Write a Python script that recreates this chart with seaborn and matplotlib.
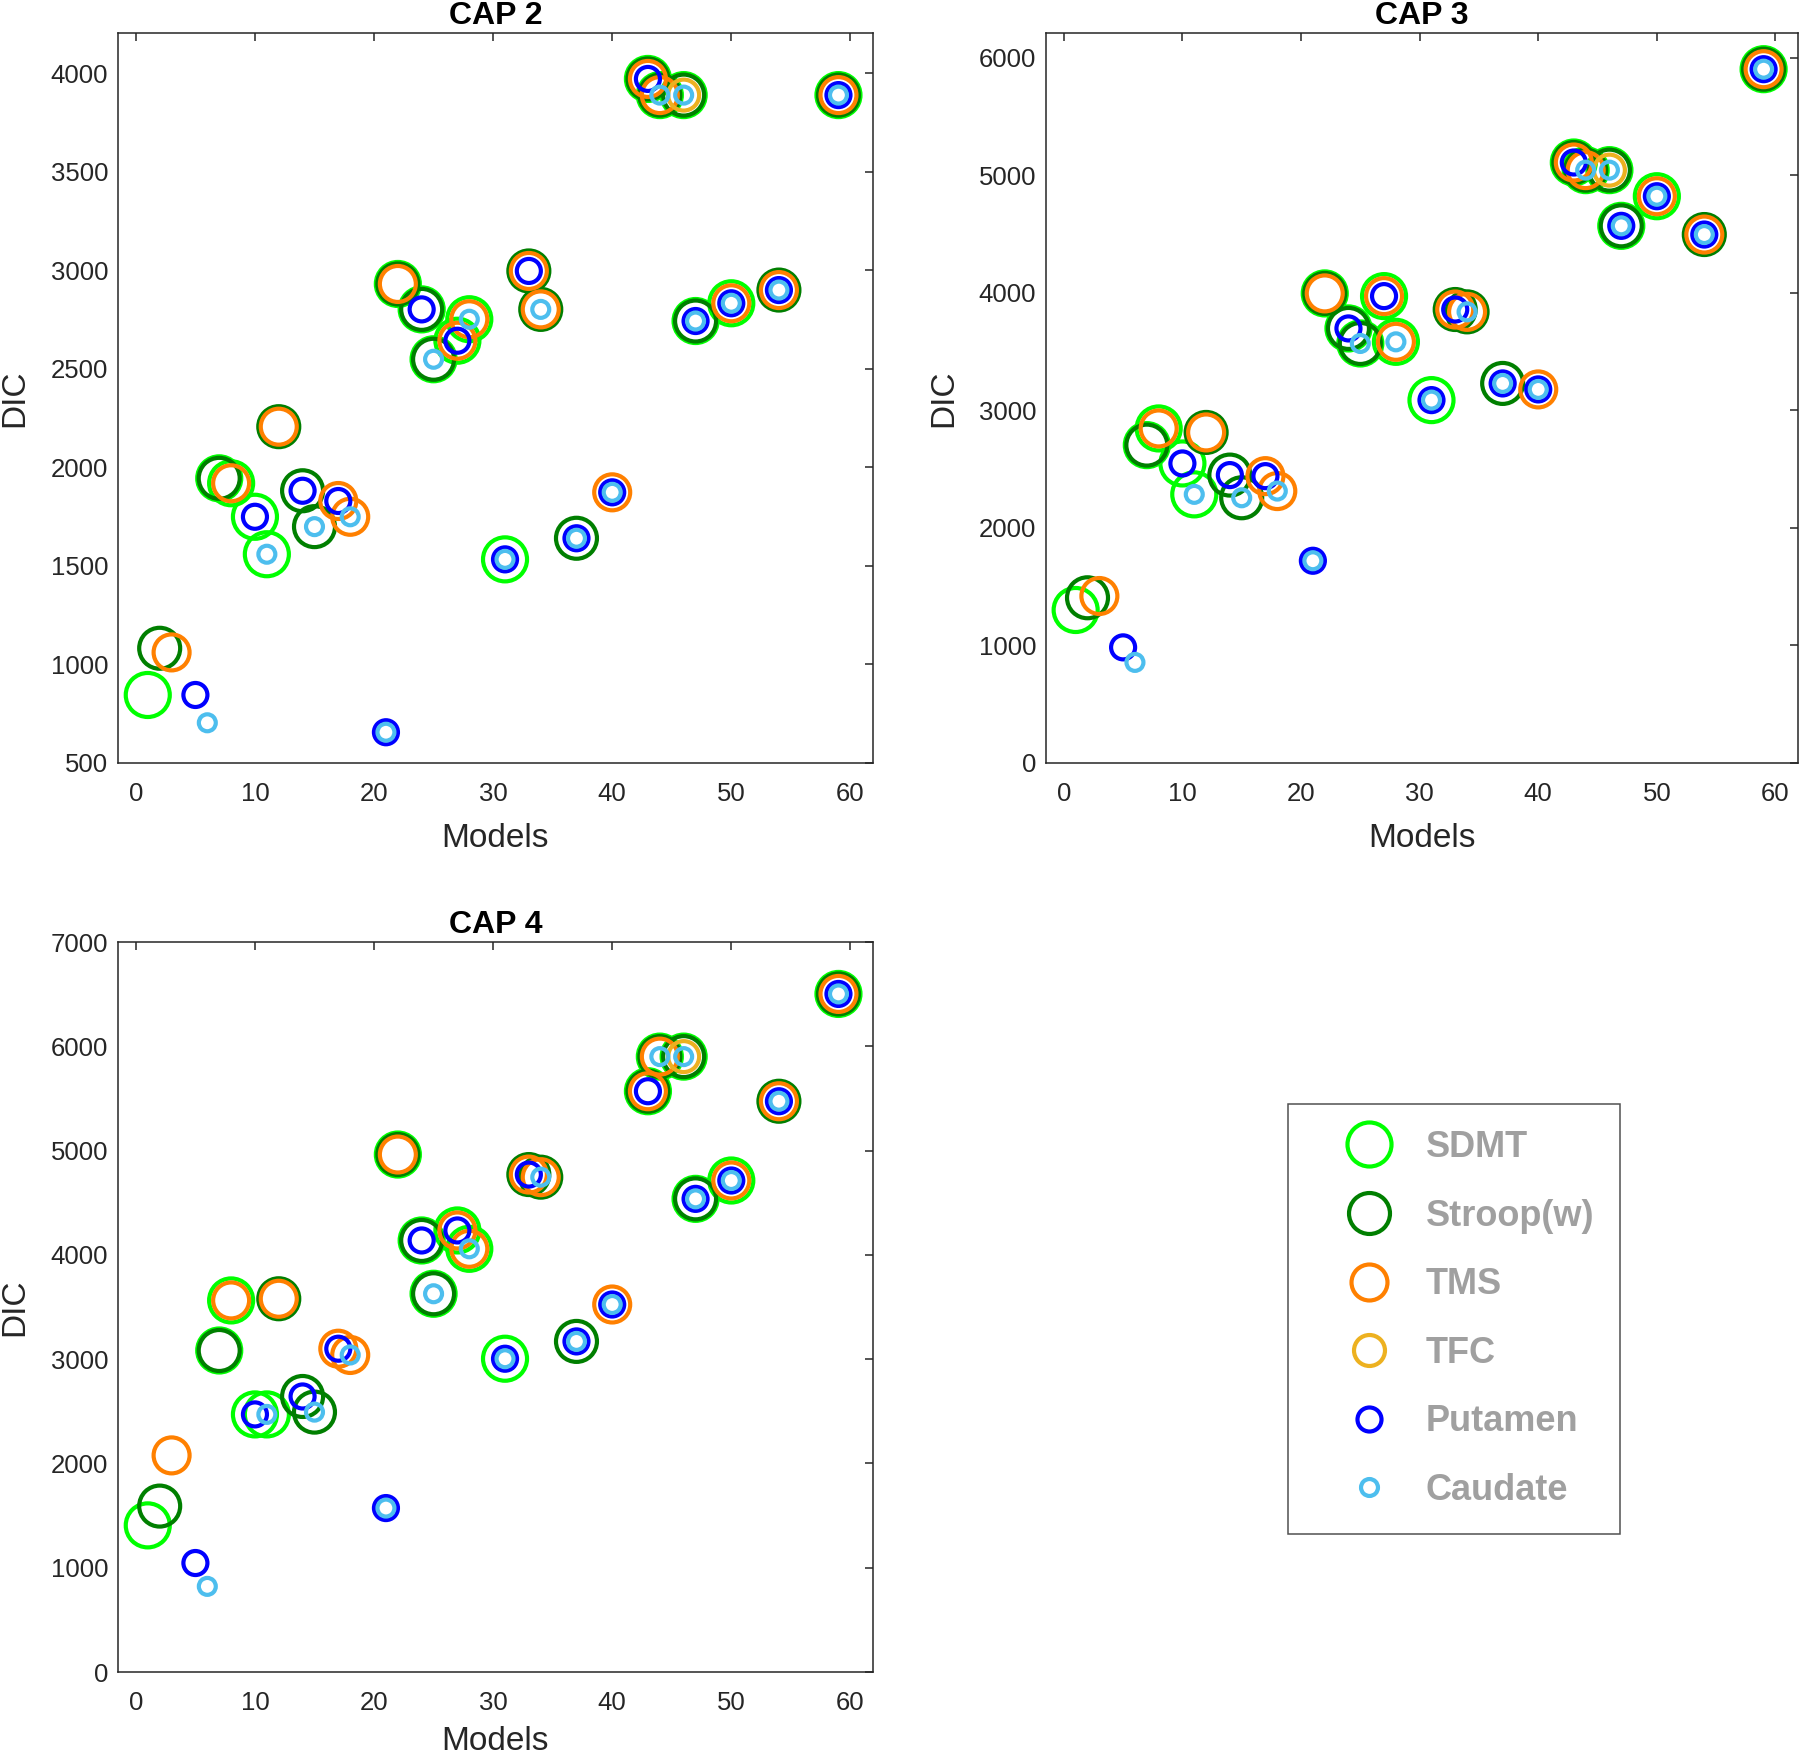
import numpy as np
import pandas as pd
import seaborn as sns
import matplotlib.pyplot as plt
from matplotlib.lines import Line2D

# Model numbers shown in the figure and the predictors each model contains
# S = SDMT, W = Stroop(w), M = TMS, F = TFC, P = Putamen, C = Caudate
models = [1, 2, 3, 5, 6, 7, 8, 10, 11, 12, 14, 15, 17, 18, 21, 22, 24, 25, 27, 28,
          31, 33, 34, 37, 40, 43, 44, 46, 47, 50, 54, 59]
terms = ['S', 'W', 'M', 'P', 'C', 'SW', 'SM', 'SP', 'SC', 'WM', 'WP', 'WC', 'MP', 'MC', 'PC',
         'SWM', 'SWP', 'SWC', 'SMP', 'SMC', 'SPC', 'WMP', 'WMC', 'WPC', 'MPC',
         'SWMP', 'SWMC', 'SWFC', 'SWPC', 'SMPC', 'WMPC', 'SWMPC']

# DIC per model
dic_cap2 = [845, 1082, 1061, 845, 704, 1944, 1919, 1749, 1559, 2206, 1881, 1699, 1829, 1749,
            656, 2930, 2801, 2548, 2642, 2751, 1533, 2996, 2801, 1640, 1873, 3970, 3888, 3888,
            2742, 2832, 2899, 3888]
dic_cap3 = [1302, 1406, 1421, 984, 856, 2705, 2847, 2549, 2286, 2813, 2450, 2257, 2441, 2314,
            1721, 3996, 3698, 3570, 3973, 3584, 3088, 3859, 3839, 3230, 3179, 5110, 5045, 5045,
            4571, 4823, 4497, 5904]
dic_cap4 = [1406, 1591, 2077, 1045, 821, 3083, 3563, 2470, 2470, 3579, 2642, 2492, 3100, 3040,
            1572, 4962, 4138, 3627, 4234, 4058, 3004, 4770, 4745, 3170, 3524, 5569, 5901, 5901,
            4537, 4713, 5473, 6502]

pred_codes = ['S', 'W', 'M', 'F', 'P', 'C']
pred_names = ['SDMT', 'Stroop(w)', 'TMS', 'TFC', 'Putamen', 'Caudate']
pred_colors = ['#00FF00', '#007F00', '#FF8000', '#EDB120', '#0000FF', '#4DBEEE']
pred_sizes = [31.7, 29.5, 25.9, 22.3, 17.3, 12.2]   # marker diameter in points

panels = ['CAP 2', 'CAP 3', 'CAP 4']
panel_dic = [dic_cap2, dic_cap3, dic_cap4]
panel_yticks = [np.arange(500, 4001, 500), np.arange(0, 6001, 1000), np.arange(0, 7001, 1000)]
panel_ylim = [(500, 4203), (0, 6212), (0, 7000)]

# long table: one row per (panel, model, predictor)
rows = []
for panel, dic in zip(panels, panel_dic):
    for m, t, d in zip(models, terms, dic):
        for code in t:
            rows.append({'panel': panel, 'model': m, 'DIC': d, 'pred': code})
df = pd.DataFrame(rows)

sns.set_theme(style='white')
plt.rcParams['font.family'] = ['Liberation Sans', 'DejaVu Sans']
axcol = '#262626'

fig = plt.figure(figsize=(18, 17.54), dpi=100)
W, H = 1800, 1754
boxes = [(118, 33, 873, 763), (1046, 33, 1798, 763), (118, 942, 873, 1672)]
xlab_y = [-0.125, -0.125, -0.117]

lw = 3.0
for panel, yt, yl, (l, t, r, b), xy in zip(panels, panel_yticks, panel_ylim, boxes, xlab_y):
    ax = fig.add_axes([l / W, 1 - b / H, (r - l) / W, (b - t) / H])
    sub = df[df['panel'] == panel]
    for code, col, sz in zip(pred_codes, pred_colors, pred_sizes):
        d = sub[sub['pred'] == code]
        if len(d) == 0:
            continue
        sns.scatterplot(data=d, x='model', y='DIC', ax=ax, s=sz ** 2, facecolors='none',
                        edgecolor=col, linewidth=lw, legend=False, clip_on=False)
    ax.set_xlim(-1.5, 61.9)
    ax.set_ylim(*yl)
    ax.set_xticks(np.arange(0, 61, 10))
    ax.set_yticks(yt)
    ax.tick_params(direction='in', length=5.8, width=1.1, top=True, right=True,
                   colors=axcol, labelsize=18.5)
    ax.tick_params(axis='x', pad=14)
    ax.tick_params(axis='y', pad=7)
    for sp in ax.spines.values():
        sp.set_visible(True)
        sp.set_color(axcol)
        sp.set_linewidth(1.1)
    ax.set_xlabel('Models', fontsize=24, color=axcol, va='bottom')
    ax.set_ylabel('DIC', fontsize=24, color=axcol)
    ax.xaxis.set_label_coords(0.5, xy)
    ax.yaxis.set_label_coords(-0.116, 0.5)
    ax.set_title(panel, fontsize=23, fontweight='bold', pad=6.5, color='black')

handles = [Line2D([], [], marker='o', ls='none', ms=sz, mfc='none', mec=col, mew=lw)
           for col, sz in zip(pred_colors, pred_sizes)]
leg = fig.legend(handles, pred_names, loc='upper left',
                 bbox_to_anchor=(1288 / W, 1 - 1104 / H), bbox_transform=fig.transFigure,
                 borderaxespad=0, frameon=True, fancybox=False, edgecolor=axcol,
                 prop={'weight': 'bold', 'size': 26}, labelcolor='#A0A0A0',
                 handlelength=3.05, handletextpad=0.05, borderpad=0.72, labelspacing=0.93,
                 numpoints=1)
leg.get_frame().set_linewidth(1.1)

fig.savefig('out.png', dpi=100)
